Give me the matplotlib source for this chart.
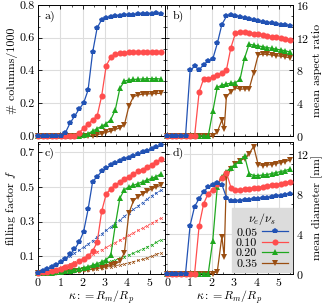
import matplotlib
matplotlib.use("Agg")
import matplotlib.pyplot as plt
from matplotlib.ticker import MultipleLocator, AutoMinorLocator
import numpy as np

# ---------------------------------------------------------- #
#  Data                                #
# ---------------------------------------------------------- #
kappa = np.linspace(0, 5.5, 28)
# brown curve in b) and d) has one extra sample near kappa = 2.55
kappa_brown = np.insert(kappa, 13, 2.55)

ratios = ["0.05", "0.10", "0.20", "0.35"]

# a) number of columns / 1000
cols_005 = [0, 0, 0, 0, 0, 0, 0.02, 0.077, 0.12, 0.163, 0.2, 0.28, 0.51, 0.66,
            0.71, 0.72, 0.725, 0.73, 0.735, 0.737, 0.74, 0.74, 0.742, 0.743,
            0.745, 0.745, 0.748, 0.745]
cols_010 = [0, 0, 0, 0, 0, 0, 0, 0, 0, 0.02, 0.047, 0.073, 0.098, 0.122, 0.245,
            0.43, 0.48, 0.5, 0.505, 0.508, 0.51, 0.51, 0.512, 0.512, 0.513,
            0.513, 0.514, 0.513]
cols_020 = [0, 0, 0, 0, 0, 0, 0, 0, 0, 0, 0.005, 0.015, 0.03, 0.045, 0.06,
            0.075, 0.1, 0.16, 0.29, 0.335, 0.342, 0.345, 0.347, 0.348, 0.35,
            0.35, 0.35, 0.348]
cols_035 = [0, 0, 0, 0, 0, 0, 0, 0, 0, 0, 0, 0, 0.002, 0.008, 0.015, 0.022,
            0.03, 0.04, 0.05, 0.068, 0.183, 0.24, 0.25, 0.255, 0.257, 0.258,
            0.26, 0.26]

# b) mean aspect ratio
asp_005 = [0, 0, 0, 0, 0, 8.0, 8.5, 8.1, 8.7, 9.2, 9.4, 11.3, 13.6, 14.6, 14.8,
           14.7, 14.5, 14.4, 14.25, 14.1, 14.0, 13.9, 13.8, 13.75, 13.65, 13.6,
           13.5, 13.4]
asp_010 = [0, 0, 0, 0, 0, 0, 0, 5.4, 7.0, 6.95, 7.25, 7.45, 7.65, 8.05, 10.8,
           12.55, 12.75, 12.7, 12.6, 12.5, 12.4, 12.3, 12.2, 12.1, 12.05, 11.95,
           11.85, 11.75]
asp_020 = [0, 0, 0, 0, 0, 0, 0, 0, 0, 0, 3.0, 5.95, 6.2, 6.35, 6.45, 6.5, 6.9,
           9.5, 11.2, 11.1, 11.0, 10.9, 10.8, 10.7, 10.6, 10.5, 10.4, 10.25]
asp_035 = [0, 0, 0, 0, 0, 0, 0, 0, 0, 0, 0, 0.5, 1.95, 0.8, 4.8, 5.4, 5.9, 5.7,
           5.75, 5.75, 7.7, 9.9, 10.0, 9.95, 9.9, 9.8, 9.75, 9.65, 9.55]

# c) filling factor (solid) and dashed reference curves
fill_005 = [0.005, 0.015, 0.025, 0.035, 0.05, 0.065, 0.085, 0.11, 0.14, 0.18,
            0.24, 0.37, 0.53, 0.56, 0.59, 0.61, 0.625, 0.64, 0.65, 0.66, 0.67,
            0.68, 0.69, 0.70, 0.71, 0.72, 0.73, 0.74]
fill_010 = [0.003, 0.006, 0.01, 0.015, 0.02, 0.027, 0.035, 0.045, 0.055, 0.07,
            0.085, 0.1, 0.13, 0.18, 0.36, 0.46, 0.49, 0.51, 0.53, 0.545, 0.56,
            0.575, 0.59, 0.6, 0.615, 0.63, 0.645, 0.66]
fill_020 = [0.001, 0.002, 0.003, 0.005, 0.007, 0.01, 0.013, 0.017, 0.022,
            0.027, 0.033, 0.04, 0.048, 0.057, 0.067, 0.08, 0.105, 0.28, 0.435,
            0.485, 0.5, 0.51, 0.52, 0.53, 0.54, 0.55, 0.56, 0.575]
fill_035 = [0.001, 0.002, 0.003, 0.004, 0.005, 0.006, 0.008, 0.01, 0.012,
            0.015, 0.018, 0.021, 0.025, 0.029, 0.034, 0.04, 0.047, 0.055, 0.07,
            0.12, 0.35, 0.42, 0.445, 0.46, 0.475, 0.49, 0.5, 0.51]
ref_005 = [0.0, 0.012, 0.026, 0.04, 0.055, 0.07, 0.085, 0.1, 0.117, 0.134,
           0.152, 0.17, 0.19, 0.21, 0.23, 0.25, 0.27, 0.29, 0.31, 0.33, 0.35,
           0.37, 0.39, 0.41, 0.43, 0.45, 0.465, 0.48]
ref_010 = [0, 0.005, 0.012, 0.02, 0.028, 0.037, 0.046, 0.056, 0.066, 0.077,
           0.088, 0.1, 0.112, 0.125, 0.138, 0.151, 0.165, 0.179, 0.193, 0.207,
           0.221, 0.235, 0.249, 0.263, 0.277, 0.291, 0.305, 0.32]
ref_020 = [0, 0.002, 0.004, 0.007, 0.01, 0.013, 0.016, 0.02, 0.024, 0.028,
           0.033, 0.038, 0.043, 0.049, 0.055, 0.062, 0.07, 0.079, 0.088, 0.098,
           0.108, 0.119, 0.13, 0.141, 0.153, 0.166, 0.18, 0.195]
ref_035 = [0, 0.001, 0.002, 0.003, 0.005, 0.007, 0.009, 0.011, 0.013, 0.015,
           0.018, 0.021, 0.024, 0.027, 0.031, 0.035, 0.04, 0.045, 0.05, 0.056,
           0.062, 0.069, 0.076, 0.083, 0.091, 0.1, 0.11, 0.12]

# d) mean diameter [nm]
diam_005 = [0, 0, 0, 0, 0, 4.8, 6.7, 7.5, 8.2, 8.65, 8.9, 9.1, 8.9, 7.6, 7.25,
            7.25, 7.3, 7.35, 7.4, 7.45, 7.5, 7.55, 7.6, 7.65, 7.75, 7.8, 7.9,
            8.0]
diam_010 = [0, 0, 0, 0, 0, 0, 0, 4.8, 7.0, 8.0, 8.4, 9.0, 9.6, 10.1, 8.6, 8.35,
            8.4, 8.45, 8.5, 8.55, 8.6, 8.7, 8.75, 8.85, 8.9, 9.0, 9.1, 9.2]
diam_020 = [0, 0, 0, 0, 0, 0, 0, 0, 0, 0, 3.3, 8.7, 9.7, 10.2, 10.6, 10.9, 11.3,
            11.75, 10.0, 9.8, 9.8, 9.85, 9.9, 10.0, 10.1, 10.2, 10.3, 10.45]
diam_035 = [0, 0, 0, 0, 0, 0, 0, 0, 0, 0, 0, 0.2, 3.7, 1.7, 9.6, 10.5, 11.0,
            11.3, 11.5, 12.0, 12.7, 10.9, 10.8, 10.85, 10.9, 11.0, 11.1, 11.2,
            11.35]

# ---------------------------------------------------------- #
#  Style                                                     #
# ---------------------------------------------------------- #
COLORS = ["#2152b4", "#ff4d4d", "#1fa81f", "#9a4e12"]
MARKERS = ["p", "o", "^", "v"]
MSIZE = [4.0, 4.4, 3.8, 3.8]
FS = 8.6

plt.rcParams["font.family"] = "serif"
plt.rcParams["font.serif"] = ["cmr10"]
plt.rcParams["mathtext.fontset"] = "cm"
plt.rcParams["axes.formatter.use_mathtext"] = True
plt.rcParams["font.size"] = FS


def style_axis(ax, xlim, ylim, ymajor, yminor_n, xlabels, ylabel_side):
    ax.set_xlim(*xlim)
    ax.set_ylim(*ylim)
    ax.xaxis.set_major_locator(MultipleLocator(1))
    ax.xaxis.set_minor_locator(AutoMinorLocator(2))
    ax.yaxis.set_major_locator(MultipleLocator(ymajor))
    ax.yaxis.set_minor_locator(AutoMinorLocator(yminor_n))
    ax.grid(True, which="major", color="#dddddd", lw=0.8, zorder=0)
    ax.set_axisbelow(True)
    ax.tick_params(which="both", direction="in", top=True, bottom=True,
                   left=True, right=True, labelsize=FS, pad=2)
    ax.tick_params(which="major", length=3, width=0.6)
    ax.tick_params(which="minor", length=1.6, width=0.5)
    ax.tick_params(labelbottom=xlabels)
    if ylabel_side == "right":
        ax.tick_params(labelleft=False, labelright=True)
        ax.yaxis.set_label_position("right")
    for s in ax.spines.values():
        s.set_linewidth(0.7)


def panel_label(ax, txt):
    ax.text(0.055, 0.955, txt, transform=ax.transAxes, ha="left", va="top",
            fontsize=FS, bbox=dict(facecolor="white", edgecolor="none", pad=0.5),
            zorder=20)


def main():
    fig = plt.figure(figsize=(3.23, 3.07), dpi=100)
    w, h = 0.3953, 0.4270
    ax_a = fig.add_axes([0.1167, 0.557, w, h])
    ax_b = fig.add_axes([0.5120, 0.557, w, h])
    ax_c = fig.add_axes([0.1167, 0.1091, w, 0.4283])
    ax_d = fig.add_axes([0.5120, 0.1091, w, 0.4283])

    cols = [cols_005, cols_010, cols_020, cols_035]
    asps = [asp_005, asp_010, asp_020, asp_035]
    fills = [fill_005, fill_010, fill_020, fill_035]
    refs = [ref_005, ref_010, ref_020, ref_035]
    diams = [diam_005, diam_010, diam_020, diam_035]

    for i in range(4):
        kw = dict(color=COLORS[i], marker=MARKERS[i], ms=MSIZE[i], lw=0.9,
                  mew=0, zorder=10 - i, clip_on=False)
        xb = kappa_brown if i == 3 else kappa
        ax_a.plot(kappa, cols[i], **kw)
        ax_b.plot(xb, asps[i], **kw)
        ax_c.plot(kappa, refs[i], color=COLORS[i], ls=(0, (3, 2)), lw=0.6,
                  marker="x", ms=2.0, mew=0.5, zorder=5 - i, clip_on=False)
        ax_c.plot(kappa, fills[i], **kw)
        ax_d.plot(xb, diams[i], label=ratios[i], **kw)

    style_axis(ax_a, (-0.02, 5.71), (0, 0.8), 0.2, 3, False, "left")
    style_axis(ax_b, (-0.09, 5.64), (0, 16), 4, 3, False, "right")
    style_axis(ax_c, (-0.02, 5.71), (0, 0.76), 0.2, 4, True, "left")
    style_axis(ax_d, (-0.09, 5.64), (0, 13.15), 4, 4, True, "right")
    ax_a.yaxis.set_major_formatter(plt.FuncFormatter(lambda v, p: "%.1f" % v))
    ax_c.set_yticks([0.1, 0.3, 0.5, 0.7])
    ax_c.yaxis.set_major_formatter(plt.FuncFormatter(lambda v, p: "%.1f" % v))

    ax_a.set_ylabel("# columns/1000", labelpad=1)
    ax_c.set_ylabel("filling factor $f$", labelpad=1)
    ax_b.set_ylabel("mean aspect ratio", labelpad=2)
    ax_d.set_ylabel("mean diameter [nm]", labelpad=2)
    ax_c.set_xlabel(r"$\kappa := R_m/R_p$", labelpad=0)
    ax_d.set_xlabel(r"$\kappa := R_m/R_p$", labelpad=0)

    for ax, t in zip([ax_a, ax_b, ax_c, ax_d], ["a)", "b)", "c)", "d)"]):
        panel_label(ax, t)

    leg = ax_d.legend(title=r"$\nu_e/\nu_s$", loc="lower right",
                      markerfirst=False, fontsize=FS, title_fontsize=FS,
                      labelspacing=0.0, handlelength=2.2, handletextpad=0.4,
                      borderpad=0.3, borderaxespad=0.1, fancybox=False,
                      facecolor="#dcdcdc", edgecolor="#dcdcdc", framealpha=1)
    leg.set_zorder(30)

    fig.savefig("out.png", dpi=100)


if __name__ == "__main__":
    main()
